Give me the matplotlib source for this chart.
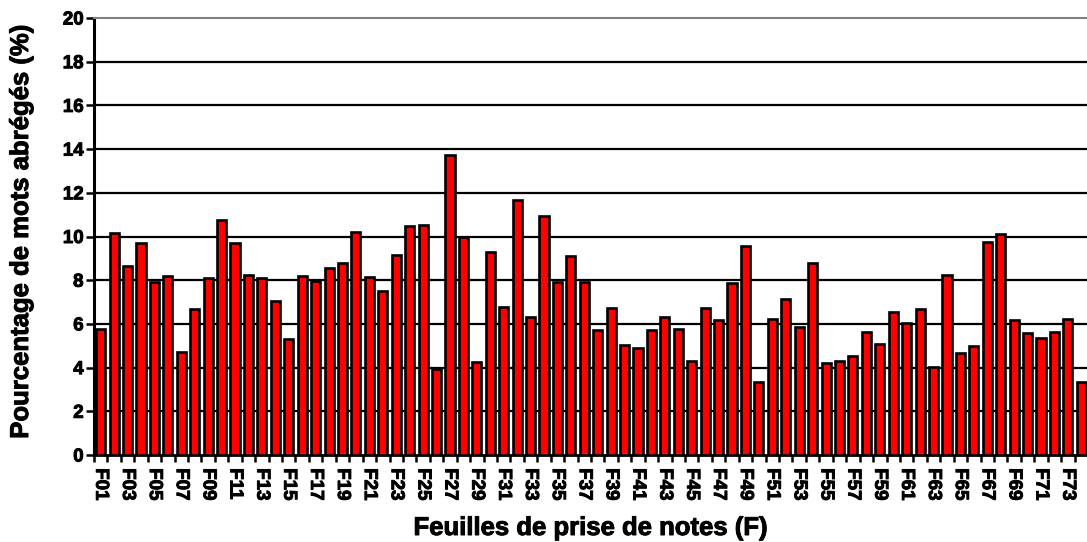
import matplotlib
matplotlib.use("Agg")
import matplotlib.pyplot as plt
import matplotlib.patheffects as pe
import numpy as np

categories = [f"F{i:02d}" for i in range(1, 75)]
values = [5.76, 10.15, 8.63, 9.68, 7.92, 8.20, 4.72, 6.67, 8.11, 10.75,
          9.69, 8.24, 8.12, 7.05, 5.31, 8.20, 7.95, 8.56, 8.81, 10.21,
          8.14, 7.51, 9.16, 10.47, 10.53, 3.92, 13.74, 10.00, 4.26, 9.28,
          6.78, 11.68, 6.32, 10.92, 7.94, 9.13, 7.94, 5.73, 6.72, 5.04,
          4.89, 5.73, 6.31, 5.76, 4.31, 6.72, 6.18, 7.85, 9.57, 3.36,
          6.23, 7.15, 5.88, 8.81, 4.20, 4.31, 4.55, 5.62, 5.08, 6.55,
          6.03, 6.67, 4.03, 8.24, 4.66, 4.99, 9.76, 10.12, 6.18, 5.57,
          5.36, 5.63, 6.24, 3.34]
yticks = list(range(0, 21, 2))
xlabel = "Feuilles de prise de notes (F)"
ylabel = "Pourcentage de mots abrégés (%)"

plt.rcParams['font.family'] = ['Liberation Sans', 'DejaVu Sans']
plt.rcParams['font.weight'] = 'bold'

fig = plt.figure(figsize=(10.87, 5.42), dpi=100)
ax = fig.add_axes([94/1087, 1-455/542, 994/1087, (455-18)/542])

x = np.arange(len(categories))
ax.bar(x, values, width=0.68, color='#ff0000', edgecolor='black',
       linewidth=1.9, zorder=3)

ax.set_xlim(-0.5, len(categories) - 0.5)
ax.set_ylim(0, 20)
ax.set_yticks(yticks)
ax.set_yticklabels([str(t) for t in yticks], fontsize=13.5, fontweight='bold')
for t in yticks[1:-1]:
    ax.axhline(t, color='black', linewidth=1.6, zorder=1)

ax.set_xticks(x[::2])
ax.set_xticklabels(categories[::2], rotation=270, fontsize=13.5,
                   fontweight='bold')
ax.set_xticks(np.arange(-0.5, len(categories), 1), minor=True)
ax.tick_params(axis='x', which='major', length=0, pad=9.5)
ax.tick_params(axis='x', which='minor', length=5, width=1.8, direction='out')
ax.tick_params(axis='y', length=6, width=1.8, direction='out', pad=1.5)

ax.spines['right'].set_visible(False)
ax.spines['top'].set_color('#808080')
ax.spines['top'].set_linewidth(1.5)
ax.spines['left'].set_linewidth(2.2)
ax.spines['bottom'].set_linewidth(2.0)

ax.set_xlabel(xlabel, fontsize=18.5, fontweight='bold')
ax.xaxis.set_label_coords(0.5, (455 - 535) / 437)
ax.xaxis.label.set_va('baseline')
ax.set_ylabel(ylabel, fontsize=18.5, fontweight='bold')
ax.yaxis.set_label_coords((33 - 94) / 994, 0.512)

stroke = [pe.withStroke(linewidth=0.7, foreground='black')]
for t in ax.get_xticklabels() + ax.get_yticklabels() + [ax.xaxis.label, ax.yaxis.label]:
    t.set_path_effects(stroke)

fig.savefig("out.png", dpi=100)
